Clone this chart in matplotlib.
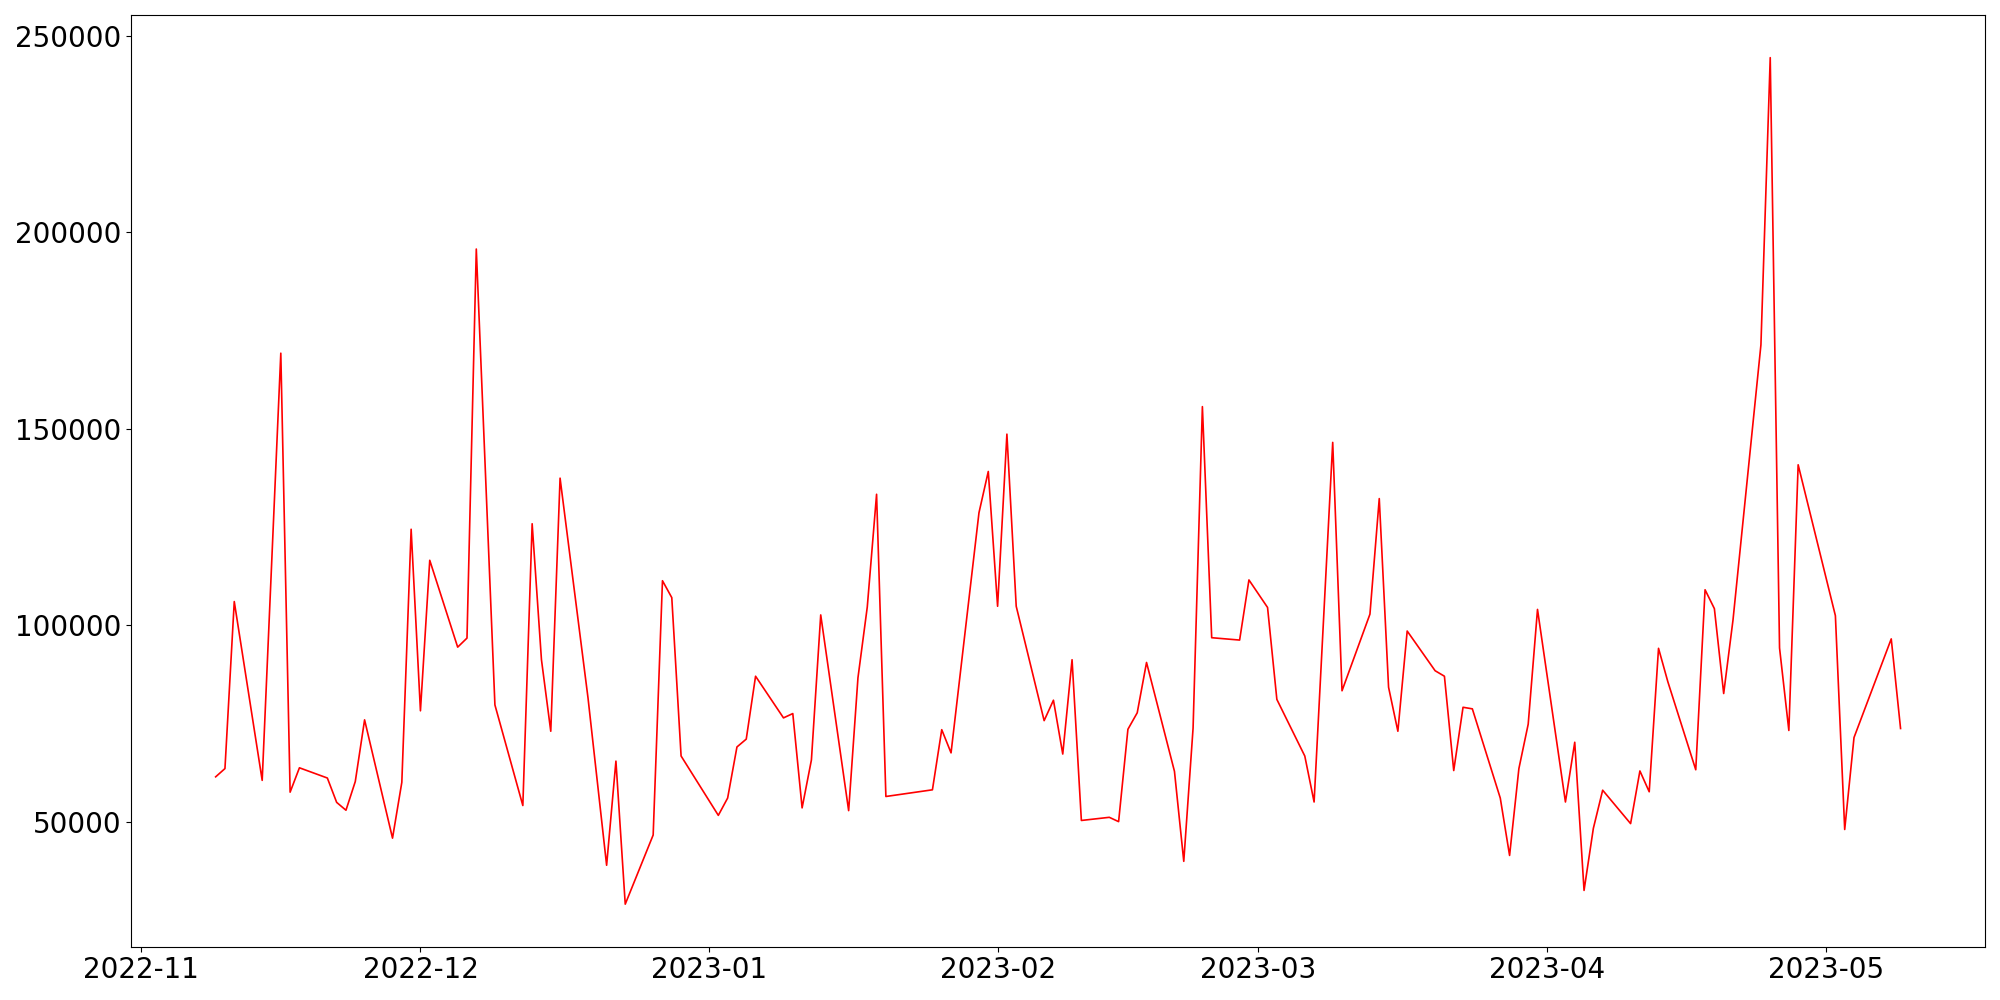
import matplotlib

matplotlib.use("Agg")
import matplotlib.pyplot as plt
import pandas as pd

# daily values (weekdays, some days missing)
dates = [
    "2022-11-09", "2022-11-10", "2022-11-11", "2022-11-14", "2022-11-16", "2022-11-17", "2022-11-18",
    "2022-11-21", "2022-11-22", "2022-11-23", "2022-11-24", "2022-11-25",
    "2022-11-28", "2022-11-29", "2022-11-30", "2022-12-01", "2022-12-02",
    "2022-12-05", "2022-12-06", "2022-12-07", "2022-12-09",
    "2022-12-12", "2022-12-13", "2022-12-14", "2022-12-15", "2022-12-16",
    "2022-12-19", "2022-12-21", "2022-12-22", "2022-12-23",
    "2022-12-26", "2022-12-27", "2022-12-28", "2022-12-29",
    "2023-01-02", "2023-01-03", "2023-01-04", "2023-01-05", "2023-01-06",
    "2023-01-09", "2023-01-10", "2023-01-11", "2023-01-12", "2023-01-13",
    "2023-01-16", "2023-01-17", "2023-01-18", "2023-01-19", "2023-01-20",
    "2023-01-25", "2023-01-26", "2023-01-27",
    "2023-01-30", "2023-01-31", "2023-02-01", "2023-02-02", "2023-02-03",
    "2023-02-06", "2023-02-07", "2023-02-08", "2023-02-09", "2023-02-10",
    "2023-02-13", "2023-02-14", "2023-02-15", "2023-02-16", "2023-02-17",
    "2023-02-20", "2023-02-21", "2023-02-22", "2023-02-23", "2023-02-24",
    "2023-02-27", "2023-02-28", "2023-03-02", "2023-03-03",
    "2023-03-06", "2023-03-07", "2023-03-09", "2023-03-10",
    "2023-03-13", "2023-03-14", "2023-03-15", "2023-03-16", "2023-03-17",
    "2023-03-20", "2023-03-21", "2023-03-22", "2023-03-23", "2023-03-24",
    "2023-03-27", "2023-03-28", "2023-03-29", "2023-03-30", "2023-03-31",
    "2023-04-03", "2023-04-04", "2023-04-05", "2023-04-06", "2023-04-07",
    "2023-04-10", "2023-04-11", "2023-04-12", "2023-04-13", "2023-04-14",
    "2023-04-17", "2023-04-18", "2023-04-19", "2023-04-20", "2023-04-21",
    "2023-04-24", "2023-04-25", "2023-04-26", "2023-04-27", "2023-04-28",
    "2023-05-02", "2023-05-03", "2023-05-04", "2023-05-08", "2023-05-09",
]
values = [
    61400, 63500, 106000, 60500, 169200, 57500, 63700,
    61100, 54900, 52900, 60200, 75900,
    45800, 60000, 124400, 78200, 116500,
    94400, 96700, 195700, 79700,
    54100, 125800, 91200, 73000, 137400,
    81500, 38900, 65400, 29000,
    46600, 111300, 107000, 66700,
    51600, 56000, 69000, 71000, 87000,
    76400, 77500, 53500, 65700, 102600,
    52800, 86600, 104600, 133300, 56400,
    58100, 73400, 67500,
    128600, 139100, 104800, 148600, 104800,
    75700, 80900, 67200, 91200, 50300,
    51100, 50000, 73500, 77700, 90500,
    62800, 39900, 73800, 155600, 96800,
    96200, 111500, 104500, 81100,
    66700, 55000, 146500, 83300,
    102800, 132200, 84200, 73000, 98500,
    88400, 87000, 63000, 79100, 78700,
    56000, 41400, 63500, 74800, 104000,
    55000, 70200, 32500, 48300, 58000,
    49500, 62900, 57600, 94100, 85600,
    63200, 109000, 104200, 82600, 101300,
    171300, 244400, 94200, 73200, 140800,
    102400, 48000, 71400, 96500, 73700,
]

s = pd.Series(values, index=pd.to_datetime(dates))

fig, ax = plt.subplots(figsize=(20, 10), dpi=100)
ax.plot(s.index, s.values, color="red", linewidth=1.2)
ax.tick_params(labelsize=20)
fig.subplots_adjust(left=0.0657, right=0.9924, bottom=0.0535, top=0.9847)
fig.savefig("out.png", dpi=100)
